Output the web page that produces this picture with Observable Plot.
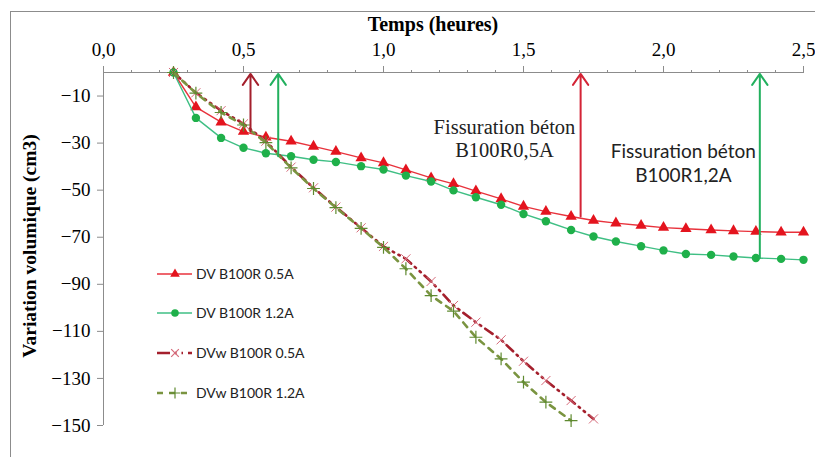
<!DOCTYPE html>
<html><head><meta charset="utf-8">
<script src="https://cdn.jsdelivr.net/npm/d3@7"></script>
<script src="https://cdn.jsdelivr.net/npm/@observablehq/plot@0.6"></script>
<style>
body{margin:0;background:#fff;}
#wrap{position:relative;width:815px;height:457px;overflow:hidden;}
#border{position:absolute;left:10px;top:11px;width:900px;height:600px;border:1px solid #8c8c8c;box-sizing:border-box;}
#chart{position:absolute;left:0;top:0;}
.ttl{position:absolute;font-family:'Liberation Serif';font-weight:bold;font-size:20px;white-space:nowrap;color:#000;}
#legend{position:absolute;left:0;top:0;}
#chart svg text{font-family:'Liberation Serif';}
</style></head><body>
<div id="wrap"><div id="border"></div><div id="chart"></div>
<div class="ttl" id="xt" style="left:433px;top:24px;transform:translate(-50%,-50%);">Temps (heures)</div>
<div class="ttl" id="yt" style="left:30px;top:246px;font-size:19.5px;transform:translate(-50%,-50%) rotate(-90deg);">Variation volumique (cm3)</div>
<svg id="legend" width="815" height="457"></svg>
</div>
<script>
// time (hours)
const time = [0.25,0.33,0.42,0.50,0.58,0.67,0.75,0.83,0.92,1.00,1.08,1.17,1.25,1.33,1.42,1.50,1.58,1.67,1.75,1.83,1.92,2.00,2.08,2.17,2.25,2.33,2.42,2.50];
// series values (cm3)
const dvB100R05 = [0,-14.7,-21.1,-25.1,-27.5,-29.2,-31.4,-33.6,-36.3,-38.4,-41.4,-44.8,-47.3,-50.4,-53.7,-56.9,-59.1,-61.2,-62.9,-64.0,-65.0,-65.9,-66.4,-66.9,-67.3,-67.6,-67.9,-67.9];
const dvB100R12 = [0,-19.3,-27.8,-32.0,-34.3,-35.6,-37.1,-38.0,-39.8,-41.2,-43.8,-46.3,-50.1,-53.0,-56.2,-60.1,-63.2,-66.9,-69.7,-71.8,-73.8,-75.6,-77.1,-77.5,-78.2,-78.8,-79.2,-79.6];
const dvwB100R05 = [0,-8.6,-16.2,-21.8,-29.2,-40.2,-49.0,-57.2,-66.0,-73.9,-79.2,-88.8,-99.0,-106.1,-113.6,-122.7,-130.9,-139.4,-147.2];
const dvwB100R12 = [0,-8.8,-17.0,-22.3,-29.8,-40.5,-49.3,-57.4,-66.2,-74.3,-83.4,-94.8,-101.4,-112.5,-121.7,-131.6,-140.1,-147.9];
// ticks
const xTicks = [0,0.5,1.0,1.5,2.0,2.5];
const xMinorTicks = [0.1,0.2,0.3,0.4,0.6,0.7,0.8,0.9,1.1,1.2,1.3,1.4,1.6,1.7,1.8,1.9,2.1,2.2,2.3,2.4];
const yTicks = [-10,-30,-50,-70,-90,-110,-130,-150];
// cracking arrows (time, volume at curve)
const arrowTimes = [0.525,0.624,1.704,2.344];
const arrowVolumes = [-25.2,-35.6,-61.2,-78.8];
const arrowColors = ["#a41f2c","#22b05e","#d42436","#22b05e"];
// annotation labels
const noteLabels = ["Fissuration béton\nB100R0,5A","Fissuration béton\nB100R1,2A"];
const noteTimes = [1.432,2.071];
const noteVolumes = [-27.8,-38.1];
// legend
const seriesNames = ["DV B100R 0.5A","DV B100R 1.2A","DVw B100R 0.5A","DVw B100R 1.2A"];

const toRows = ys => ys.map((v,i)=>({t:time[i], v}));
const s1 = toRows(dvB100R05), s2 = toRows(dvB100R12), s3 = toRows(dvwB100R05), s4 = toRows(dvwB100R12);
const arrows = arrowTimes.map((t,i)=>({t, v:arrowVolumes[i], c:arrowColors[i]}));
const notes = noteLabels.map((l,i)=>({l, t:noteTimes[i], v:noteVolumes[i]}));

const fmt = d => d.toFixed(1).replace(".",",");

const plot = Plot.plot({
  width:815, height:457,
  marginLeft:103, marginRight:12, marginTop:72, marginBottom:32,
  x:{domain:[0,2.5]},
  y:{domain:[-150,0]},
  style:{background:"transparent", fontFamily:"Liberation Serif", fontSize:"19px", color:"#000", overflow:"visible"},
  marks:[
    Plot.axisX(xMinorTicks,{anchor:"top", tickSize:3, tickFormat:()=>"", stroke:"#8c8c8c", label:null}),
    Plot.axisX(xTicks,{anchor:"top", tickSize:7, tickPadding:10, tickFormat:fmt, stroke:"#8c8c8c", fill:"#000", label:null, fontSize:19}),
    Plot.axisY(yTicks,{anchor:"left", tickSize:6, tickPadding:7, stroke:"#8c8c8c", fill:"#000", label:null, fontSize:19}),
    Plot.ruleY([0],{stroke:"#8c8c8c"}),
    Plot.ruleX([0],{stroke:"#8c8c8c"}),
    // DV series
    Plot.line(s1,{x:"t", y:"v", stroke:"#e8323c", strokeWidth:1.4}),
    Plot.dot(s1,{x:"t", y:"v", symbol:"triangle", r:4.2, fill:"#e4141e", stroke:"none"}),
    Plot.line(s2,{x:"t", y:"v", stroke:"#3fbf84", strokeWidth:1.4}),
    Plot.dot(s2,{x:"t", y:"v", symbol:"circle", r:4.2, fill:"#1fb04a", stroke:"none"}),
    // DVw series
    Plot.line(s3,{x:"t", y:"v", stroke:"#a41f2c", strokeWidth:2.6, strokeDasharray:"9,5,1.5,5,1.5,5"}),
    Plot.dot(s3,{x:"t", y:"v", symbol:"times", r:4.2, stroke:"#d66a7a", strokeWidth:1}),
    Plot.line(s4,{x:"t", y:"v", stroke:"#7a9440", strokeWidth:2.6, strokeDasharray:"6,6"}),
    Plot.dot(s4,{x:"t", y:"v", symbol:"plus", r:4.2, stroke:"#5f8a30", strokeWidth:1.2}),
    // arrows
    Plot.arrow(arrows,{x1:"t", y1:"v", x2:"t", y2:()=>-0.6, stroke:"c", strokeWidth:2, headLength:10, headAngle:70}),
    // notes
    Plot.text(notes.slice(0,1),{x:"t", y:"v", text:"l", fontSize:20.5, lineHeight:1.15, fill:"#222", textAnchor:"middle"}),
    Plot.text(notes.slice(1),{x:"t", y:"v", text:"l", fontSize:19, lineHeight:1.3, fill:"#222", textAnchor:"middle", className:"note-sans"})
  ]
});
document.getElementById("chart").appendChild(plot);
d3.select(plot).selectAll(".note-sans text").style("font-family","Lato");

// legend
const lg = d3.select("#legend");
const rowsY = [274,313,353,393];
const lx0 = 157, lx1 = 192, lxm = 175, tx = 196;
const legSpec = [
  {stroke:"#e8323c", w:1.4, dash:null, sym:d3.symbolTriangle, fill:"#e4141e", mstroke:"none", size:40},
  {stroke:"#3fbf84", w:1.4, dash:null, sym:d3.symbolCircle, fill:"#1fb04a", mstroke:"none", size:45},
  {stroke:"#a41f2c", w:2.6, dash:"13,5,1.5,5,1.5,5", sym:d3.symbolTimes, fill:"none", mstroke:"#d66a7a", size:40},
  {stroke:"#7a9440", w:2.6, dash:"6,6", sym:d3.symbolPlus, fill:"none", mstroke:"#5f8a30", size:40}
];
legSpec.forEach((s,i)=>{
  const g = lg.append("g").attr("transform",`translate(0,${rowsY[i]})`);
  g.append("line").attr("x1",lx0).attr("x2",lx1).attr("y1",0).attr("y2",0)
    .attr("stroke",s.stroke).attr("stroke-width",s.w).attr("stroke-dasharray",s.dash);
  g.append("path").attr("d",d3.symbol(s.sym,s.size)()).attr("transform",`translate(${lxm},0)`)
    .attr("fill",s.fill).attr("stroke",s.mstroke).attr("stroke-width",1.2);
  g.append("text").attr("x",tx).attr("y",0).attr("dy","0.35em").text(seriesNames[i])
    .attr("font-family","Lato").attr("font-size",14).attr("fill","#222");
});
</script>
</body></html>
